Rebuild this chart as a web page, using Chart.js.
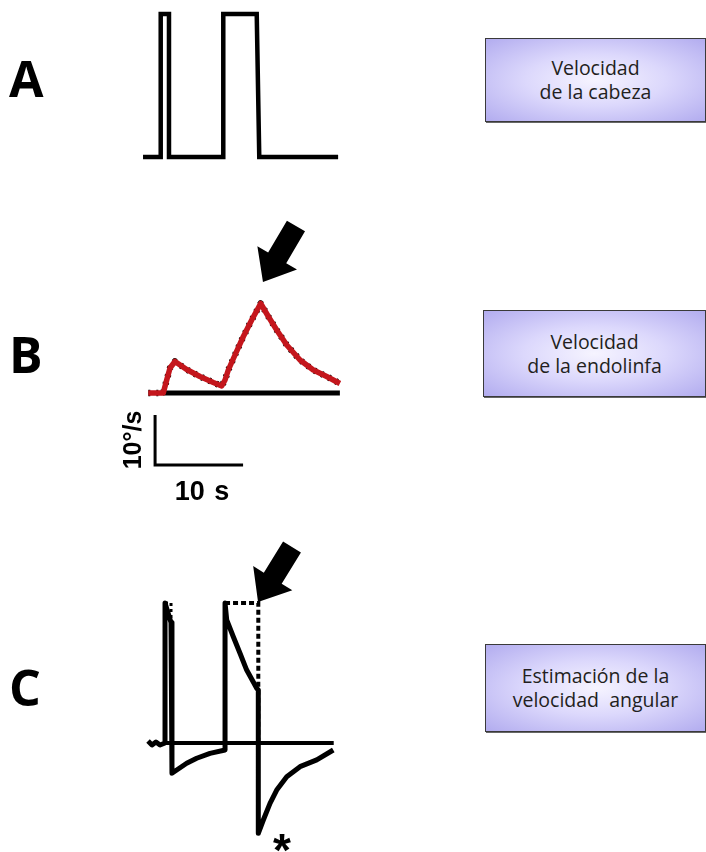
<!DOCTYPE html>
<html>
<head>
<meta charset="utf-8">
<script src="https://cdn.jsdelivr.net/npm/chart.js@4.4.1/dist/chart.umd.min.js"></script>
<style>
  html, body { margin:0; padding:0; background:#fff; }
  body { width:706px; height:852px; position:relative; overflow:hidden; font-family:"Open Sans", "Liberation Sans", sans-serif; }
  .panel { position:absolute; }
  .letter { position:absolute; font-family:"Open Sans", sans-serif; font-weight:700; font-size:50px; line-height:50px; color:#000; }
  .box { position:absolute; box-sizing:border-box; border:1px solid #3a3a3a; box-shadow:1px 1px 0 #666;
         background: radial-gradient(ellipse at 50% 50%, #f6f4ff 0%, #dcd8fc 45%, #b2acef 100%);
         display:flex; align-items:center; justify-content:center; text-align:center;
         font-family:"Open Sans", sans-serif; font-size:19.5px; line-height:24px; color:#231f20; white-space:pre; }
  .lbl { position:absolute; font-family:"Liberation Sans", Arial, sans-serif; font-weight:700; font-size:24px; color:#000; white-space:nowrap; }
</style>
</head>
<body>
<div class="letter" style="left:9px; top:53px;">A</div>
<div class="letter" style="left:9px; top:329px;">B</div>
<div class="letter" style="left:9px; top:662px;">C</div>

<div class="box" style="left:485px; top:38px; width:221px; height:84px;">Velocidad
de la cabeza</div>
<div class="box" style="left:483px; top:310px; width:223px; height:87px;">Velocidad
de la endolinfa</div>
<div class="box" style="left:485px; top:644px; width:221px; height:88px;">Estimación de la
velocidad  angular</div>

<div class="panel" id="wA"><canvas id="cA"></canvas></div>
<div class="panel" id="wB"><canvas id="cB"></canvas></div>
<div class="panel" id="wC"><canvas id="cC"></canvas></div>

<div class="lbl" style="left:132px; top:440px; font-size:25px; transform:translate(-50%,-50%) rotate(-90deg);">10°/s</div>
<div class="lbl" style="left:202px; top:491px; font-size:27px; word-spacing:2px; transform:translate(-50%,-50%);">10 s</div>
<div class="lbl" style="left:282px; top:850px; font-size:46px; transform:translate(-50%,-50%);">*</div>

<script>
// ---- Data (time in s, velocity in arbitrary units / deg/s) ----
// A: head velocity (two rectangular pulses)
const headTime = [-2.27, -0.26, -0.26, 0.68, 0.68, 6.85, 6.85, 10.65, 10.94, 19.9];
const headVel  = [0, 0, 100, 100, 0, 0, 100, 100, 0, 0];

// B: endolymph velocity (deg/s)
const endoTime = [-1.67, 0.03, 0.42, 0.8, 1.36, 2.69, 4.2, 5.72, 6.67, 7.05, 7.42, 8.18, 9.13, 10.08, 11.1, 11.97, 12.92, 14.06, 15.57, 17.08, 18.6, 20.1];
const endoVel  = [0, 0, 2.6, 5.0, 6.3, 4.7, 3.3, 2.1, 1.4, 2.6, 4.6, 7.6, 11.3, 14.6, 17.9, 15.3, 12.6, 9.6, 6.6, 4.6, 3.3, 1.9];
const baseBTime = [0, 20.1];
const baseBVel  = [0, 0];
// Scale bar: 10 s horizontal, 10 deg/s vertical
const barTime = [-0.9, -0.9, 9.1];
const barVel  = [-4.4, -14.4, -14.4];

// C: angular velocity estimate
const estTime = [-1.7, -1.25, -0.8, -0.34, 0.23, 0.23, 0.91, 1.02, 1.02, 1.56, 2.69, 3.83, 5.34, 7.05, 7.05, 7.24, 7.99, 8.75, 9.51, 10.65, 10.83, 10.83, 11.4, 12.16, 12.92, 14.06, 15.57, 17.47, 19.35];
const estVel  = [1.4, -1.4, 0.7, -1.4, 0, 100, 86, 84, -21.6, -19.3, -14.5, -10.9, -7.4, -5.0, 100, 87.9, 75.9, 64.1, 52.1, 39.1, 37.9, -64.5, -55, -43.1, -33.6, -24.1, -16.9, -12.1, -5];
const idealTime = [7.05, 10.83, 10.83];
const idealVel  = [100, 100, 0];
const ideal1Time = [0.23, 0.91, 0.91];
const ideal1Vel  = [100, 100, 84];
const baseCTime = [0, 19.4];
const baseCVel  = [0, 0];

// Arrows: [tailT, tailV, tipT, tipV]
const arrowB = [15.11, 33.4, 11.36, 22.2];
const arrowC = [14.66, 140, 10.8, 100.7];

// ---- helpers ----
const pts = (xs, ys) => xs.map((x, i) => ({x, y: ys[i]}));

const arrowPlugin = {
  id: 'bigArrow',
  afterDatasetsDraw(chart, args, opts) {
    if (!opts || !opts.coords) return;
    const [t0, v0, t1, v1] = opts.coords;
    const xs = chart.scales.x, ys = chart.scales.y;
    const ax = xs.getPixelForValue(t0), ay = ys.getPixelForValue(v0);
    const bx = xs.getPixelForValue(t1), by = ys.getPixelForValue(v1);
    const dx = bx - ax, dy = by - ay, L = Math.hypot(dx, dy);
    const ux = dx / L, uy = dy / L, nx = -uy, ny = ux;
    const sw = 10.5, hw = 23, hl = 28;
    const hx = bx - ux * hl, hy = by - uy * hl;
    const ctx = chart.ctx;
    ctx.save();
    ctx.fillStyle = '#000';
    ctx.beginPath();
    ctx.moveTo(ax + nx * sw, ay + ny * sw);
    ctx.lineTo(hx + nx * sw, hy + ny * sw);
    ctx.lineTo(hx + nx * hw, hy + ny * hw);
    ctx.lineTo(bx, by);
    ctx.lineTo(hx - nx * hw, hy - ny * hw);
    ctx.lineTo(hx - nx * sw, hy - ny * sw);
    ctx.lineTo(ax - nx * sw, ay - ny * sw);
    ctx.closePath();
    ctx.fill();
    ctx.restore();
  }
};

const PAD = 16;
const X_BOX = {x: 130, w: 220}, T_RANGE = [-3.75, 21.25];

function makeChart(wrapId, canvasId, yBox, vRange, datasets, arrow) {
  const w = document.getElementById(wrapId);
  w.style.left = (X_BOX.x - PAD) + 'px';
  w.style.top = (yBox.y - PAD) + 'px';
  w.style.width = (X_BOX.w + 2 * PAD) + 'px';
  w.style.height = (yBox.h + 2 * PAD) + 'px';
  return new Chart(document.getElementById(canvasId), {
    type: 'line',
    data: { datasets },
    options: {
      responsive: true, maintainAspectRatio: false, animation: false,
      devicePixelRatio: 1,
      layout: { padding: PAD },
      elements: { point: { radius: 0, hoverRadius: 0 }, line: { tension: 0, borderCapStyle: 'butt', borderJoinStyle: 'miter', fill: false } },
      scales: {
        x: { type: 'linear', min: T_RANGE[0], max: T_RANGE[1], display: false },
        y: { type: 'linear', min: vRange[0], max: vRange[1], display: false }
      },
      plugins: { legend: { display: false }, tooltip: { enabled: false }, bigArrow: { coords: arrow } }
    },
    plugins: [arrowPlugin]
  });
}

const common = { pointRadius: 0, clip: false, tension: 0 };

makeChart('wA', 'cA', {y: 14, h: 143}, [0, 100], [
  { ...common, data: pts(headTime, headVel), borderColor: '#000', borderWidth: 4.5 }
], null);

makeChart('wB', 'cB', {y: 213, h: 260}, [-16, 36], [
  { ...common, order: 0, data: pts(endoTime, endoVel), borderColor: '#c4161c', borderWidth: 5.5, borderJoinStyle: 'round' },
  { ...common, order: 1, data: pts(endoTime, endoVel), borderColor: '#000', borderWidth: 6.5, borderDash: [2, 6], borderJoinStyle: 'round' },
  { ...common, order: 2, data: pts(baseBTime, baseBVel), borderColor: '#000', borderWidth: 5 },
  { ...common, order: 3, data: pts(barTime, barVel), borderColor: '#000', borderWidth: 3 }
], arrowB);

makeChart('wC', 'cC', {y: 540, h: 301}, [-70, 145], [
  { ...common, order: 0, data: pts(estTime, estVel), borderColor: '#000', borderWidth: 5, borderJoinStyle: 'round' },
  { ...common, order: 1, data: pts(idealTime, idealVel), borderColor: '#000', borderWidth: 4, borderDash: [5, 3] },
  { ...common, order: 1, data: pts(ideal1Time, ideal1Vel), borderColor: '#000', borderWidth: 3, borderDash: [3, 3] },
  { ...common, order: 2, data: pts(baseCTime, baseCVel), borderColor: '#000', borderWidth: 4 }
], arrowC);
</script>
</body>
</html>
